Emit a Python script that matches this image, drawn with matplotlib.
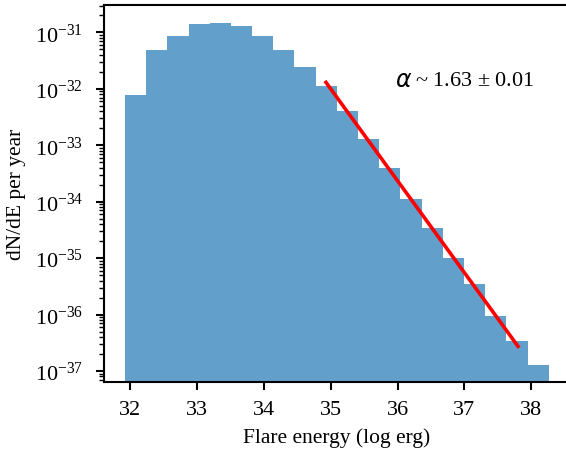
import numpy as np
import matplotlib
matplotlib.use('Agg')
import matplotlib.pyplot as plt

# histogram of flare energies
bin_lo = 31.925
bin_hi = 38.26
rate = [7.80e-33, 4.90e-32, 8.67e-32, 1.42e-31, 1.47e-31,
        1.30e-31, 8.67e-32, 4.90e-32, 2.45e-32, 1.13e-32,
        4.06e-33, 1.29e-33, 3.96e-34, 1.12e-34, 3.43e-35,
        1.01e-35, 3.48e-36, 9.44e-37, 3.40e-37, 1.28e-37]

# power-law fit
alpha = 1.63
alpha_err = 0.01
fit_norm = 25.051
fit_range = [34.93, 37.80]

plt.rcParams['font.family'] = 'Liberation Serif'
plt.rcParams['mathtext.fontset'] = 'custom'
plt.rcParams['mathtext.rm'] = 'Liberation Serif'
plt.rcParams['mathtext.it'] = 'Liberation Serif:italic'
plt.rcParams['font.size'] = 16

fig = plt.figure(figsize=(5.66, 4.56), dpi=100)
ax = fig.add_axes([104/566, 73/456, 466/566, 377/456])

edges = np.linspace(bin_lo, bin_hi, len(rate) + 1)
ax.bar(edges[:-1], rate, width=np.diff(edges), align='edge',
       color='C0', alpha=0.7, linewidth=0)

xf = np.linspace(fit_range[0], fit_range[1], 50)
ax.plot(xf, 10**(fit_norm - alpha*xf), color='red', lw=2.6)

ax.set_yscale('log')
ax.set_xlim(31.612, 38.577)
ax.set_ylim(10**-37.195, 10**-30.513)
ax.set_xticks(range(32, 39))

for s in ax.spines.values():
    s.set_linewidth(1.5)
ax.tick_params(which='major', length=6, width=1.5, labelsize=16)
ax.tick_params(axis='x', pad=7)
ax.tick_params(axis='y', pad=9)
ax.tick_params(which='minor', length=3.5, width=1.0)

ax.text(0.624, 0.80, r'$\alpha$', transform=ax.transAxes, fontsize=17,
        math_fontfamily='dejavusans', va='center', ha='left')
ax.text(0.668, 0.80, r'~ %.2f $\pm$ %.2f' % (alpha, alpha_err),
        transform=ax.transAxes, fontsize=16, va='center', ha='left')

ax.set_xlabel('Flare energy (log erg)', fontsize=15.5, labelpad=6)
ax.set_ylabel('dN/dE per year', fontsize=15.5, labelpad=6)

fig.savefig('out.png', dpi=100)
